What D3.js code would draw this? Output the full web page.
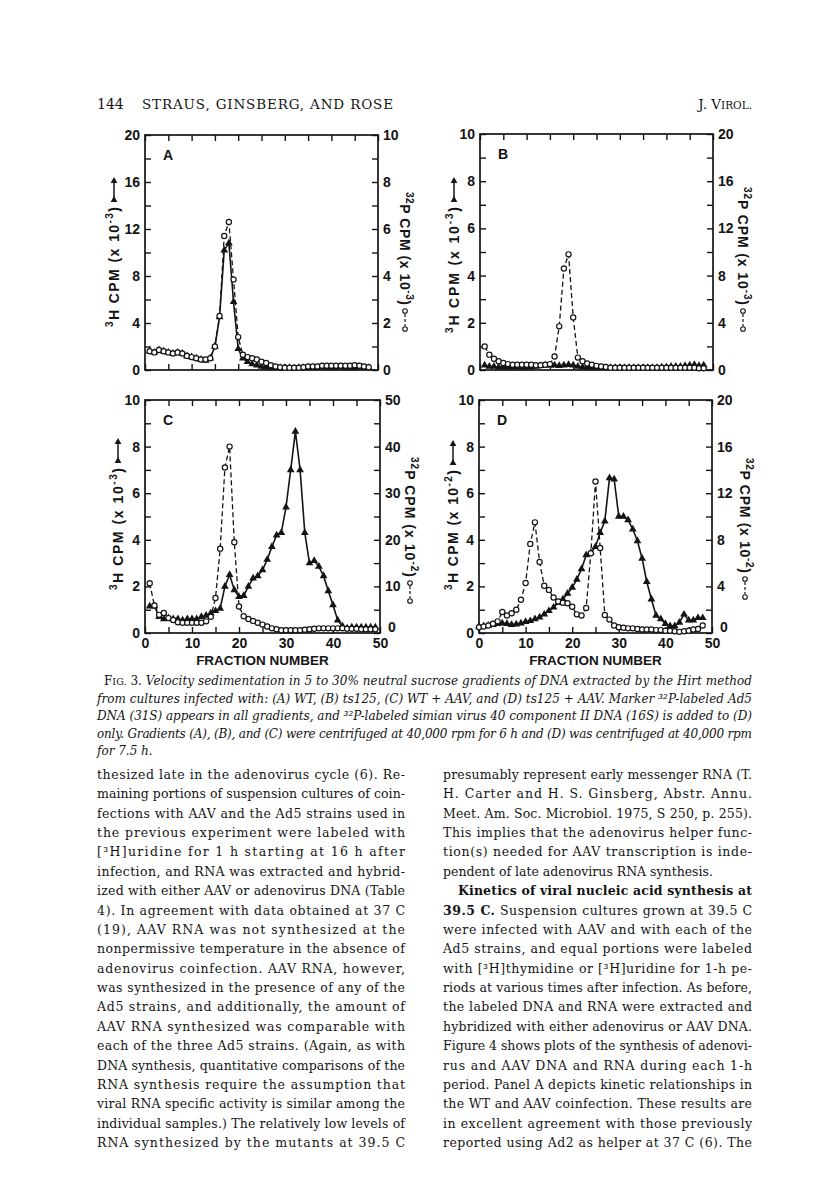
<!DOCTYPE html>
<html lang="en">
<head>
<meta charset="UTF-8">
<title>Fig. 3 velocity sedimentation</title>
<script src="https://cdn.jsdelivr.net/npm/d3@7"></script>
<style>
  body { margin: 0; background: #fff; }
  text { white-space: pre; }
</style>
</head>
<body>
<script>

var width = 816, height = 1193;

// fraction ticks on every panel
var xTicks = [0, 5, 10, 15, 20, 25, 30, 35, 40, 45, 50];

// Panel A: WT  (3H on left axis x10^-3, 32P on right axis x10^-3), fractions 1..48
var startA = 1;
var tritiumA = [1.6,1.5,1.7,1.6,1.5,1.4,1.5,1.4,1.2,1.1,1.0,0.9,0.8,1.0,2.0,4.5,10.2,10.8,5.8,1.8,
  1.0,0.7,0.5,0.4,0.3,0.25,0.2,0.2,0.2,0.2,0.2,0.15,0.2,0.2,0.2,0.2,0.2,0.25,0.2,0.2,
  0.2,0.25,0.2,0.2,0.2,0.25,0.2,0.2];
var phosphorusA = [0.8,0.75,0.85,0.8,0.75,0.7,0.75,0.7,0.6,0.55,0.5,0.45,0.45,0.5,1.0,2.3,5.7,6.3,3.85,1.4,
  0.65,0.55,0.5,0.45,0.35,0.3,0.2,0.15,0.12,0.1,0.1,0.1,0.1,0.12,0.15,0.15,0.15,0.18,0.18,0.18,
  0.18,0.18,0.18,0.18,0.2,0.18,0.15,0.12];

// Panel B: ts125, fractions 1..48
var startB = 1;
var tritiumB = [0.2,0.15,0.15,0.12,0.12,0.12,0.12,0.12,0.12,0.12,0.12,0.15,0.18,0.2,0.2,0.2,0.18,0.2,0.22,0.2,
  0.15,0.12,0.1,0.1,0.1,0.1,0.1,0.1,0.1,0.1,0.1,0.1,0.1,0.1,0.1,0.1,0.1,0.1,0.12,0.12,
  0.15,0.15,0.15,0.18,0.2,0.22,0.18,0.2];
var phosphorusB = [2.0,1.3,0.95,0.75,0.6,0.5,0.45,0.45,0.45,0.45,0.45,0.4,0.4,0.45,0.5,1.15,3.7,8.6,9.8,4.45,
  1.05,0.75,0.55,0.45,0.35,0.3,0.25,0.2,0.2,0.2,0.2,0.2,0.2,0.2,0.2,0.2,0.2,0.2,0.2,0.2,
  0.2,0.2,0.2,0.2,0.2,0.2,0.15,0.15];

// Panel C: WT + AAV (32P right axis x10^-2), fractions 1..49
var startC = 1;
var tritiumC = [1.15,1.15,0.7,0.6,0.65,0.6,0.6,0.55,0.6,0.6,0.6,0.7,0.75,0.85,0.95,1.05,2.0,2.5,1.85,1.55,
  1.6,2.0,2.35,2.45,2.7,3.15,3.7,4.2,4.3,5.4,7.0,8.65,7.0,4.3,3.0,3.1,2.85,2.45,1.8,1.2,
  0.55,0.3,0.2,0.25,0.25,0.25,0.25,0.25,0.25];
var phosphorusC = [10.7,5.9,3.9,4.3,3.2,2.8,2.3,2.2,2.2,2.2,2.2,2.2,2.5,3.5,7.5,18.1,35.5,40.0,19.5,5.7,
  3.6,3.0,2.6,2.2,1.8,1.4,1.0,0.8,0.6,0.6,0.6,0.6,0.6,0.7,0.8,0.9,1.0,1.0,1.0,1.0,
  1.0,1.0,0.9,0.9,0.9,0.8,0.8,0.8,0.8];

// Panel D: ts125 + AAV (both x10^-2), fractions 0..48
var startD = 0;
var tritiumD = [0.28,0.3,0.32,0.35,0.4,0.42,0.4,0.35,0.38,0.42,0.48,0.52,0.6,0.68,0.8,0.95,1.1,1.3,1.45,1.7,
  1.95,2.3,2.75,3.35,3.45,3.7,4.3,4.8,6.65,6.6,5.0,5.0,4.85,4.45,3.95,3.2,2.2,1.45,0.75,0.6,
  0.4,0.3,0.3,0.45,0.8,0.55,0.55,0.65,0.65];
var phosphorusD = [0.5,0.55,0.65,0.8,1.0,1.8,1.5,1.7,2.0,2.85,4.3,7.65,9.5,6.1,4.05,3.7,3.05,2.7,2.6,2.55,
  2.25,1.6,1.5,2.15,6.85,13.0,7.3,1.55,1.15,0.65,0.5,0.45,0.4,0.4,0.35,0.3,0.3,0.3,0.25,0.25,
  0.2,0.2,0.15,0.1,0.15,0.2,0.3,0.35,0.65];

// page text
var captionLines = [
  "Velocity sedimentation in 5 to 30% neutral sucrose gradients of DNA extracted by the Hirt method",
  "from cultures infected with: (A) WT, (B) ts125, (C) WT + AAV, and (D) ts125 + AAV. Marker ³²P-labeled Ad5",
  "DNA (31S) appears in all gradients, and ³²P-labeled simian virus 40 component II DNA (16S) is added to (D)",
  "only. Gradients (A), (B), and (C) were centrifuged at 40,000 rpm for 6 h and (D) was centrifuged at 40,000 rpm",
  "for 7.5 h."
];
var leftColumn = [
  "thesized late in the adenovirus cycle (6). Re-",
  "maining portions of suspension cultures of coin-",
  "fections with AAV and the Ad5 strains used in",
  "the previous experiment were labeled with",
  "[³H]uridine for 1 h starting at 16 h after",
  "infection, and RNA was extracted and hybrid-",
  "ized with either AAV or adenovirus DNA (Table",
  "4). In agreement with data obtained at 37 C",
  "(19), AAV RNA was not synthesized at the",
  "nonpermissive temperature in the absence of",
  "adenovirus coinfection. AAV RNA, however,",
  "was synthesized in the presence of any of the",
  "Ad5 strains, and additionally, the amount of",
  "AAV RNA synthesized was comparable with",
  "each of the three Ad5 strains. (Again, as with",
  "DNA synthesis, quantitative comparisons of the",
  "RNA synthesis require the assumption that",
  "viral RNA specific activity is similar among the",
  "individual samples.) The relatively low levels of",
  "RNA synthesized by the mutants at 39.5 C"
];
var rightColumn = [
  "presumably represent early messenger RNA (T.",
  "H. Carter and H. S. Ginsberg, Abstr. Annu.",
  "Meet. Am. Soc. Microbiol. 1975, S 250, p. 255).",
  "This implies that the adenovirus helper func-",
  "tion(s) needed for AAV transcription is inde-",
  "pendent of late adenovirus RNA synthesis.",
  "Kinetics of viral nucleic acid synthesis at",
  "Suspension cultures grown at 39.5 C",
  "were infected with AAV and with each of the",
  "Ad5 strains, and equal portions were labeled",
  "with [³H]thymidine or [³H]uridine for 1-h pe-",
  "riods at various times after infection. As before,",
  "the labeled DNA and RNA were extracted and",
  "hybridized with either adenovirus or AAV DNA.",
  "Figure 4 shows plots of the synthesis of adenovi-",
  "rus and AAV DNA and RNA during each 1-h",
  "period. Panel A depicts kinetic relationships in",
  "the WT and AAV coinfection. These results are",
  "in excellent agreement with those previously",
  "reported using Ad2 as helper at 37 C (6). The"
];

var ink = "#141414";
var fontSans = "'Liberation Sans', Arial, Helvetica, sans-serif";
var fontSerif = "'DejaVu Serif', 'Liberation Serif', serif";

var svg = d3.select("body").append("svg")
    .attr("width", width)
    .attr("height", height);

svg.append("rect").attr("width", width).attr("height", height).attr("fill", "#fff");

// one line of text, stretched to a width when given
function textLine(x, y, parts, opts) {
    var t = svg.append("text")
        .attr("x", x).attr("y", y)
        .attr("fill", ink)
        .attr("font-family", opts.family)
        .attr("font-size", opts.size)
        .attr("font-style", opts.italic ? "italic" : "normal")
        .attr("text-anchor", opts.anchor || "start");
    parts.forEach(function(p) {
        if (typeof p === "string") p = {t: p};
        var s = t.append("tspan").text(p.t);
        if (p.b) s.attr("font-weight", "bold");
        if (p.up) s.attr("font-style", "normal");
        if (p.s) s.attr("font-size", p.s);
    });
    if (opts.width) t.attr("textLength", opts.width).attr("lengthAdjust", "spacing");
    return t;
}

function labelOf(step) {
    return function(d) {
        return Math.abs(d / step - Math.round(d / step)) < 1e-6 ? d : "";
    };
}

function axisText(g, x, y, angle, base, exp, len) {
    var t = g.append("text")
        .attr("transform", "translate(" + x + "," + y + ") rotate(" + angle + ")")
        .attr("font-family", fontSans)
        .attr("font-size", 14)
        .attr("font-weight", "bold")
        .attr("fill", ink)
        .attr("textLength", len)
        .attr("lengthAdjust", "spacing");
    t.append("tspan").attr("font-size", 10).attr("dy", -6).text(base[0]);
    t.append("tspan").attr("dy", 6).text(base[1] + " CPM (x 10");
    t.append("tspan").attr("font-size", 10).attr("dy", -6).text(exp);
    t.append("tspan").attr("dy", 6).text(")");
}

function drawPanel(p) {
    var g = svg.append("g");
    var x = d3.scaleLinear().domain([0, 50]).range([p.left, p.left + p.w]);
    var yL = d3.scaleLinear().domain([0, p.lMax]).range([p.top + p.h, p.top]);
    var yR = d3.scaleLinear().domain([0, p.rMax]).range([p.top + p.h, p.top]);

    g.append("g").attr("transform", "translate(0," + (p.top + p.h) + ")")
        .call(d3.axisBottom(x).tickValues(xTicks).tickSizeInner(-6).tickSizeOuter(0).tickPadding(5)
            .tickFormat(p.xLabels ? labelOf(10) : function() { return ""; }));
    g.append("g").attr("transform", "translate(0," + p.top + ")")
        .call(d3.axisTop(x).tickValues(xTicks).tickSizeInner(-6).tickSizeOuter(0).tickFormat(""));
    g.append("g").attr("transform", "translate(" + p.left + ",0)")
        .call(d3.axisLeft(yL).tickValues(d3.range(0, p.lMax + 1e-6, p.lStep / 2))
            .tickSizeInner(-6).tickSizeOuter(0).tickPadding(5).tickFormat(labelOf(p.lStep)));
    var right = g.append("g").attr("transform", "translate(" + (p.left + p.w) + ",0)")
        .call(d3.axisRight(yR).tickValues(d3.range(0, p.rMax + 1e-6, p.rStep / 2))
            .tickSizeInner(-6).tickSizeOuter(0).tickPadding(5).tickFormat(labelOf(p.rStep)));

    g.selectAll(".domain").remove();
    g.selectAll(".tick line").attr("stroke", ink).attr("stroke-width", 1.4);
    g.selectAll(".tick text")
        .attr("font-family", fontSans).attr("font-size", 14)
        .attr("font-weight", "bold").attr("fill", ink);

    // lift the right-hand zero clear of the fraction labels
    if (p.xLabels) {
        right.selectAll(".tick text").filter(function(d) { return d === 0; })
            .attr("x", 8).attr("y", -6);
    }

    g.append("rect")
        .attr("x", p.left).attr("y", p.top)
        .attr("width", p.w).attr("height", p.h)
        .attr("fill", "none").attr("stroke", ink).attr("stroke-width", 1.7);

    var tri = p.tritium.map(function(v, i) { return {f: p.start + i, v: v}; });
    var pho = p.phosphorus.map(function(v, i) { return {f: p.start + i, v: v}; });

    g.append("path")
        .attr("d", d3.line().x(function(d) { return x(d.f); }).y(function(d) { return yL(d.v); })(tri))
        .attr("fill", "none").attr("stroke", ink).attr("stroke-width", 1.6);
    g.append("path")
        .attr("d", d3.line().x(function(d) { return x(d.f); }).y(function(d) { return yR(d.v); })(pho))
        .attr("fill", "none").attr("stroke", ink).attr("stroke-width", 1.3)
        .attr("stroke-dasharray", "5,3");

    var triangle = d3.symbol().type(d3.symbolTriangle).size(26);
    g.selectAll(".tri").data(tri).enter().append("path")
        .attr("transform", function(d) { return "translate(" + x(d.f) + "," + yL(d.v) + ")"; })
        .attr("d", triangle).attr("fill", ink);
    g.selectAll(".pho").data(pho).enter().append("circle")
        .attr("cx", function(d) { return x(d.f); })
        .attr("cy", function(d) { return yR(d.v); })
        .attr("r", 2.6)
        .attr("fill", "#fff").attr("stroke", ink).attr("stroke-width", 1.2);

    // panel letter
    g.append("text").attr("x", p.left + 18).attr("y", p.top + 25)
        .attr("font-family", fontSans).attr("font-size", 14).attr("font-weight", "bold")
        .attr("fill", ink).text(p.letter);

    // axis titles with their line keys
    axisText(g, p.lLab.x, p.lLab.y, -90, ["3", "H"], p.lExp, p.lLab.len);
    var ky0 = p.lLab.y - p.lLab.len - 5, kx = p.lLab.x - 5;
    g.append("line").attr("x1", kx).attr("x2", kx).attr("y1", ky0).attr("y2", ky0 - 22)
        .attr("stroke", ink).attr("stroke-width", 1.5);
    [ky0 - 2, ky0 - 21].forEach(function(yy) {
        g.append("path").attr("transform", "translate(" + kx + "," + yy + ")")
            .attr("d", d3.symbol().type(d3.symbolTriangle).size(20)).attr("fill", ink);
    });

    axisText(g, p.rLab.x, p.rLab.y, 90, ["32", "P"], p.rExp, p.rLab.len);
    var ry0 = p.rLab.y + p.rLab.len + 6, rx = p.rLab.x + 5;
    g.append("line").attr("x1", rx).attr("x2", rx).attr("y1", ry0 + 3).attr("y2", ry0 + 15)
        .attr("stroke", ink).attr("stroke-width", 1.2).attr("stroke-dasharray", "3,2");
    [ry0, ry0 + 18].forEach(function(yy) {
        g.append("circle").attr("cx", rx).attr("cy", yy).attr("r", 2.3)
            .attr("fill", "#fff").attr("stroke", ink).attr("stroke-width", 1.1);
    });

    if (p.xLabels) {
        g.append("text").attr("x", p.left + p.w / 2).attr("y", p.top + p.h + 32)
            .attr("text-anchor", "middle")
            .attr("font-family", fontSans).attr("font-size", 13.5).attr("font-weight", "bold")
            .attr("fill", ink).text("FRACTION NUMBER");
    }
}

drawPanel({left: 145, top: 135, w: 233, h: 235, letter: "A", lMax: 20, lStep: 4, rMax: 10, rStep: 2,
    tritium: tritiumA, phosphorus: phosphorusA, start: startA, lExp: "-3", rExp: "-3", xLabels: false,
    lLab: {x: 119, y: 327, len: 120}, rLab: {x: 400, y: 192, len: 113}});
drawPanel({left: 480, top: 134, w: 233, h: 236, letter: "B", lMax: 10, lStep: 2, rMax: 20, rStep: 4,
    tritium: tritiumB, phosphorus: phosphorusB, start: startB, lExp: "-3", rExp: "-3", xLabels: false,
    lLab: {x: 459, y: 333, len: 126}, rLab: {x: 738, y: 187, len: 118}});
drawPanel({left: 145, top: 400, w: 235, h: 233, letter: "C", lMax: 10, lStep: 2, rMax: 50, rStep: 10,
    tritium: tritiumC, phosphorus: phosphorusC, start: startC, lExp: "-3", rExp: "-2", xLabels: true,
    lLab: {x: 123, y: 590, len: 122}, rLab: {x: 405, y: 457, len: 120}});
drawPanel({left: 479, top: 400, w: 233, h: 233, letter: "D", lMax: 10, lStep: 2, rMax: 20, rStep: 4,
    tritium: tritiumD, phosphorus: phosphorusD, start: startD, lExp: "-2", rExp: "-2", xLabels: true,
    lLab: {x: 458, y: 590, len: 120}, rLab: {x: 740, y: 458, len: 115}});

// running head
textLine(97, 109, ["144"], {family: fontSerif, size: 14});
textLine(142, 109, ["STRAUS, GINSBERG, AND ROSE"], {family: fontSerif, size: 13.5, width: 251});
textLine(752, 109, ["J. V", {t: "IROL.", s: 10.5}], {family: fontSerif, size: 13.5, anchor: "end"});

// caption
var capTop = 685, capStep = 17.5;
captionLines.forEach(function(s, i) {
    var parts = i === 0 ? [{t: "F", up: true}, {t: "IG.", up: true, s: 9.5}, {t: " 3. ", up: true}, s] : [s];
    var x0 = i === 0 ? 104 : 97;
    var last = i === captionLines.length - 1;
    textLine(x0, capTop + i * capStep, parts,
        {family: fontSerif, size: 12, italic: true, width: last ? null : 752 - x0});
});

// body columns
var bodyTop = 779, bodyStep = 19.37;
leftColumn.forEach(function(s, i) {
    textLine(97, bodyTop + i * bodyStep, [s], {family: fontSerif, size: 12.5, width: 308});
});
rightColumn.forEach(function(s, i) {
    var parts = [s], x0 = 443, w = 309;
    if (i === 5) w = null;
    if (i === 6) { parts = [{t: s, b: true}]; x0 = 458; w = 294; }
    if (i === 7) parts = [{t: "39.5 C.", b: true}, " " + s];
    textLine(x0, bodyTop + i * bodyStep, parts, {family: fontSerif, size: 12.5, width: w});
});

</script>
</body>
</html>
